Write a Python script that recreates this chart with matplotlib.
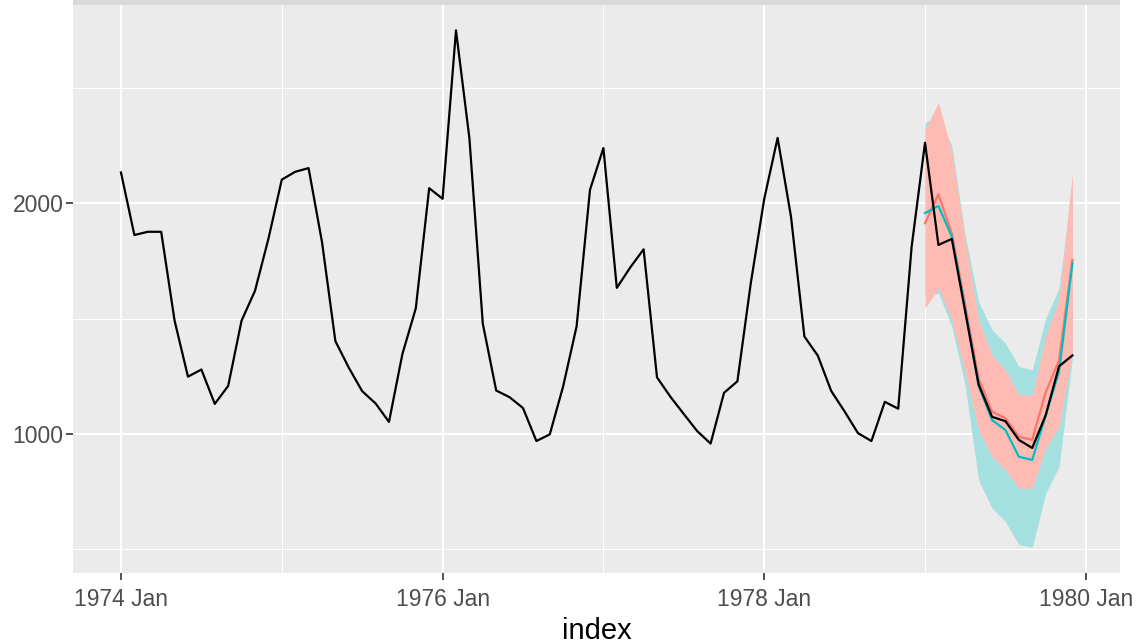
import numpy as np
import matplotlib
matplotlib.use("Agg")
import matplotlib.pyplot as plt
from matplotlib.patches import Rectangle
from matplotlib.ticker import FixedLocator

plt.rcParams['font.family'] = ['Liberation Sans', 'DejaVu Sans']

# monthly deaths, 1974 Jan .. 1979 Dec
deaths = [2134, 1863, 1877, 1877, 1492, 1249, 1280, 1131, 1209, 1492, 1621, 1846,
          2103, 2137, 2153, 1833, 1403, 1288, 1186, 1133, 1053, 1347, 1545, 2066,
          2020, 2750, 2283, 1479, 1189, 1160, 1113, 970, 999, 1208, 1467, 2059,
          2240, 1634, 1722, 1801, 1246, 1162, 1087, 1013, 959, 1179, 1229, 1655,
          2019, 2284, 1942, 1423, 1340, 1187, 1098, 1004, 970, 1140, 1110, 1812,
          2263, 1820, 1846, 1531, 1215, 1075, 1056, 975, 940, 1081, 1294, 1341]
start_year = 1974

# forecasts for 1979 (two models)
red_mean = [1914, 2040, 1870, 1560, 1240, 1097, 1069, 989, 975, 1180, 1320, 1755]
red_lo = [1546, 1632, 1495, 1260, 1018, 902, 845, 765, 765, 939, 1032, 1350]
red_hi = [2320, 2437, 2225, 1840, 1495, 1343, 1278, 1170, 1170, 1423, 1589, 2131]
cyan_mean = [1958, 1989, 1856, 1540, 1210, 1061, 1018, 902, 888, 1080, 1270, 1741]
cyan_lo = [1590, 1611, 1466, 1210, 800, 679, 621, 520, 510, 743, 859, 1330]
cyan_hi = [2350, 2380, 2250, 1860, 1574, 1452, 1394, 1293, 1278, 1502, 1632, 2090]

tick_years = [1974, 1976, 1978, 1980]

t = np.arange(len(deaths))
tf = t[-12:]

fig = plt.figure(figsize=(11.37, 6.42), dpi=100)
ax = fig.add_axes([73/1137, 69/642, (1120-73)/1137, (573-5)/642])
ax.set_facecolor('#EBEBEB')
for s in ax.spines.values():
    s.set_visible(False)

ax.fill_between(tf, cyan_lo, cyan_hi, color='#A5E0E1', lw=0, zorder=2)
ax.fill_between(tf, red_lo, red_hi, color='#FDBBB4', lw=0, zorder=3)
ax.plot(tf, red_mean, color='#F8766D', lw=1.6, zorder=4)
ax.plot(tf, cyan_mean, color='#00BFC4', lw=1.6, zorder=5)
ax.plot(t, deaths, color='black', lw=1.6, zorder=6)

ax.set_xlim(-3.58, 74.55)
ax.set_ylim(398, 2860)

xt = [(y - start_year) * 12 for y in tick_years]
ax.set_xticks(xt)
ax.set_xticklabels([f"{y} Jan" for y in tick_years])
ax.xaxis.set_minor_locator(FixedLocator([12, 36, 60]))
ax.set_yticks([1000, 2000])
ax.yaxis.set_minor_locator(FixedLocator([500, 1500, 2500]))

ax.grid(which='major', color='white', lw=1.45)
ax.grid(which='minor', color='white', lw=0.75)
ax.set_axisbelow(True)
ax.tick_params(which='major', length=5, width=1.2, color='#333333',
               labelcolor='#4D4D4D', labelsize=16.5)
ax.tick_params(axis='x', pad=6)
ax.tick_params(axis='y', pad=2)
ax.tick_params(which='minor', length=0)

ax.set_xlabel("index", fontsize=21, labelpad=4)

# strip at the top
fig.add_artist(Rectangle((73/1137, 637/642), (1120-73)/1137, 5/642,
                         transform=fig.transFigure, color='#D9D9D9', lw=0))

fig.savefig("out.png", dpi=100)
